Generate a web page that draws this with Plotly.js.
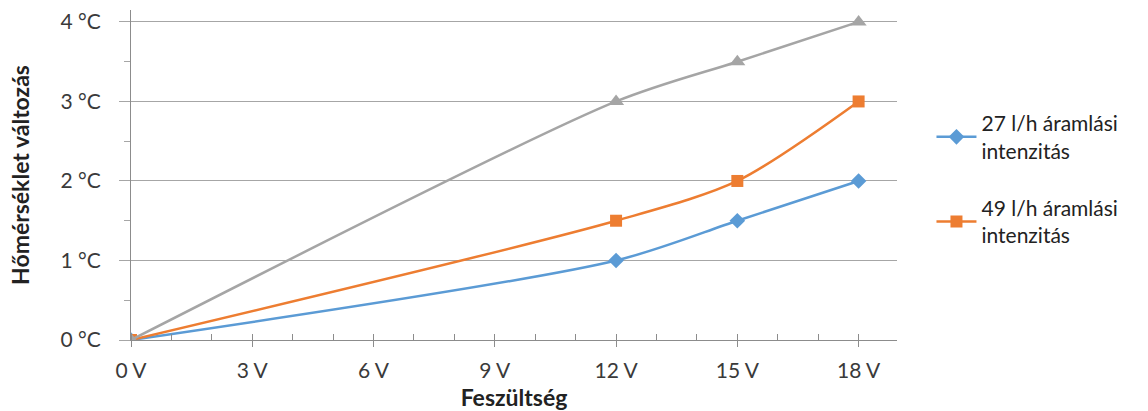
<!DOCTYPE html>
<html><head><meta charset="utf-8">
<script src="https://cdn.plot.ly/plotly-3.0.1.min.js"></script>
<style>html,body{margin:0;padding:0;background:#fff;}#chart{width:1148px;height:411px;}</style>
</head><body><div id="chart"></div>
<script>
const voltages = [0, 12, 15, 18];
const flow27 = [0, 1, 1.5, 2];
const flow49 = [0, 1.5, 2, 3];
const series3 = [0, 3, 3.5, 4];
const seriesNames = ['27 l/h áramlási<br>intenzitás', '49 l/h áramlási<br>intenzitás', ''];
const xTickVals = [0, 3, 6, 9, 12, 15, 18];
const xTickText = ['0 V', '3 V', '6 V', '9 V', '12 V', '15 V', '18 V'];
const yTickVals = [0, 1, 2, 3, 4];
const yTickText = ['0 °C', '1 °C', '2 °C', '3 °C', '4 °C'];

const fam = 'Lato, "Open Sans", sans-serif';
const txt = '#3a3a3a';

const traces = [
  {x: voltages, y: flow27, name: seriesNames[0], legendgroup: 'a', mode: 'lines+markers',
   line: {color: '#5B9BD5', width: 2.5, shape: 'spline', smoothing: 0.8},
   marker: {symbol: 'diamond', size: 12, color: '#5B9BD5'}},
  {x: voltages, y: flow49, name: seriesNames[1], legendgroup: 'b', mode: 'lines+markers',
   line: {color: '#ED7D31', width: 2.5, shape: 'spline', smoothing: 0.8},
   marker: {symbol: 'square', size: 12, color: '#ED7D31'}},
  {x: voltages, y: series3, name: seriesNames[2], showlegend: false, mode: 'lines+markers',
   line: {color: '#A5A5A5', width: 2.5, shape: 'spline', smoothing: 0.8},
   marker: {symbol: 'triangle-up', size: 14, color: '#A5A5A5'}}
];

const layout = {
  width: 1148, height: 411,
  margin: {l: 131, r: 251, t: 10, b: 71},
  paper_bgcolor: '#fff', plot_bgcolor: '#fff',
  font: {family: fam, size: 21, color: txt},
  showlegend: true,
  legend: {x: 1.045, xanchor: 'left', y: 0.718, yanchor: 'top', traceorder: 'grouped',
           font: {family: fam, size: 21, color: '#222'}, tracegroupgap: 27, itemwidth: 40},
  xaxis: {
    range: [0, 18.95], tickmode: 'array', tickvals: xTickVals, ticktext: xTickText,
    showgrid: false, zeroline: false, showline: true, linecolor: '#8c8c8c', linewidth: 1,
    ticks: 'outside', ticklen: 6, tickcolor: '#8c8c8c', ticklabelstandoff: 6,
    minor: {dtick: 1, ticks: 'inside', ticklen: 6, tickcolor: '#8c8c8c'},
    tickfont: {family: fam, size: 21, color: txt},
    title: {text: '<b>Feszültség</b>', font: {family: fam, size: 23, color: '#222'}, standoff: 8}
  },
  yaxis: {
    range: [0, 4.15], tickmode: 'array', tickvals: yTickVals, ticktext: yTickText,
    showgrid: true, gridcolor: '#a6a6a6', gridwidth: 1, zeroline: false,
    showline: true, linecolor: '#8c8c8c', linewidth: 1,
    ticks: 'outside', ticklen: 11, tickcolor: '#a6a6a6', ticklabelstandoff: 14,
    minor: {dtick: 0.5, ticks: 'outside', ticklen: 6, tickcolor: '#a6a6a6', showgrid: false},
    tickfont: {family: fam, size: 21, color: txt},
    title: {text: '<b>Hőmérséklet változás</b>', font: {family: fam, size: 23, color: '#222'}, standoff: 24}
  }
};
Plotly.newPlot('chart', traces, layout, {displayModeBar: false, staticPlot: true});
</script></body></html>
